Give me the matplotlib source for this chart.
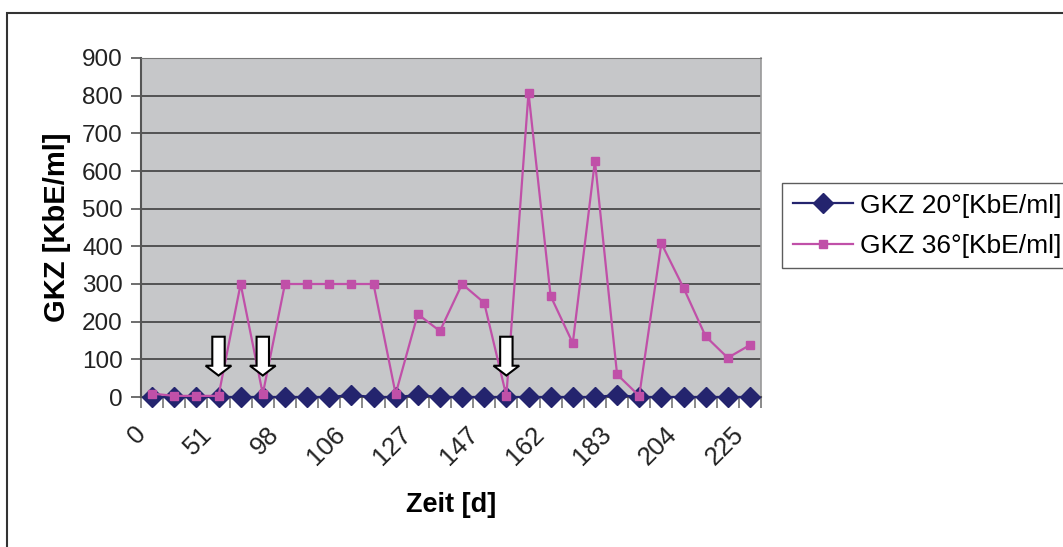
import numpy as np
import matplotlib
matplotlib.use("Agg")
import matplotlib.pyplot as plt
from matplotlib.patches import Rectangle, FancyArrow
import matplotlib.transforms as mtransforms

plt.rcParams['font.family'] = ['Liberation Sans', 'DejaVu Sans']

# shown day labels (every third category)
day_labels = ["0", "51", "98", "106", "127", "147", "162", "183", "204", "225"]
n_cat = 28

gkz20 = [0, 0, 0, 0, 0, 0, 0, 0, 0, 5, 0, 0, 5, 0,
         0, 0, 0, 0, 0, 0, 0, 5, 0, 0, 0, 0, 0, 0]
gkz36 = [9, 3, 3, 3, 300, 8, 300, 300, 300, 300, 300, 8, 220, 175,
         300, 250, 3, 808, 268, 143, 627, 60, 3, 408, 290, 161, 104, 138]

# arrows mark these categories
arrow_cats = [3, 5, 16]
arrow_top = 160
arrow_tip = 57

blue = "#24246e"
pink = "#c050a8"

fig = plt.figure(figsize=(10.63, 5.47), dpi=100)
ax = fig.add_axes([141/1063, 1-397/547, 620/1063, 339/547])
ax.set_facecolor("#c6c7c9")

x = np.arange(n_cat)
ax.plot(x, gkz20, color=blue, lw=1.6, marker="D", ms=10, mfc=blue, mec=blue,
        label="GKZ 20°[KbE/ml]", clip_on=False, zorder=3)
ax.plot(x, gkz36, color=pink, lw=1.6, marker="s", ms=5.5, mfc=pink, mec=pink,
        label="GKZ 36°[KbE/ml]", clip_on=False, zorder=4)

for c in arrow_cats:
    ax.add_patch(FancyArrow(c, arrow_top, 0, arrow_tip - arrow_top, width=0.56,
                            head_width=1.16, head_length=26,
                            length_includes_head=True, fc="white", ec="black",
                            lw=1.5, zorder=6))

ax.set_xlim(-0.5, n_cat - 0.5)
ax.set_ylim(0, 900)
ax.set_yticks(np.arange(0, 901, 100))
ax.yaxis.grid(True, color="#333333", lw=1.1)
ax.set_axisbelow(True)
ax.tick_params(axis="y", length=7, width=1.2, color="#555555", labelsize=17.5, pad=6,
               labelcolor="#222222")

ax.set_xticks(np.arange(0, n_cat, 3))
ax.set_xticklabels(day_labels)
ax.set_xticks(np.arange(-0.5, n_cat, 1), minor=True)
ax.tick_params(axis="x", which="major", length=0, labelsize=18.5, pad=24,
               labelcolor="#222222")
ax.tick_params(axis="x", which="minor", length=8, width=1.2, color="#777777")
offset = mtransforms.ScaledTranslation(-10/100, 0, fig.dpi_scale_trans)
for lab in ax.get_xticklabels():
    lab.set_rotation(45)
    lab.set_ha("right")
    lab.set_va("center")
    lab.set_rotation_mode("anchor")
    lab.set_transform(lab.get_transform() + offset)

ax.spines["left"].set_color("#555555")
ax.spines["left"].set_linewidth(1.5)
ax.spines["bottom"].set_color("#555555")
ax.spines["bottom"].set_linewidth(1.5)
ax.spines["top"].set_color("#777777")
ax.spines["right"].set_color("#999999")
ax.spines["right"].set_linewidth(1.2)

ax.set_xlabel("Zeit [d]", fontsize=19.5, fontweight="bold", labelpad=16)
ax.set_ylabel("GKZ [KbE/ml]", fontsize=21, fontweight="bold", labelpad=8)

leg = fig.legend(loc="upper left", bbox_to_anchor=(782/1063, 1-183/547),
                 fontsize=19, frameon=True, fancybox=False, edgecolor="#333333",
                 handlelength=2.3, borderaxespad=0, borderpad=0.4,
                 labelspacing=0.62, handletextpad=0.25)
leg.get_frame().set_linewidth(1.0)

fig.patches.append(Rectangle((7/1063, -0.1), 1.2, 1.1 - 13/547, fill=False,
                             ec="#333333", lw=1.5, transform=fig.transFigure,
                             figure=fig))

fig.savefig("out.png", dpi=100)
